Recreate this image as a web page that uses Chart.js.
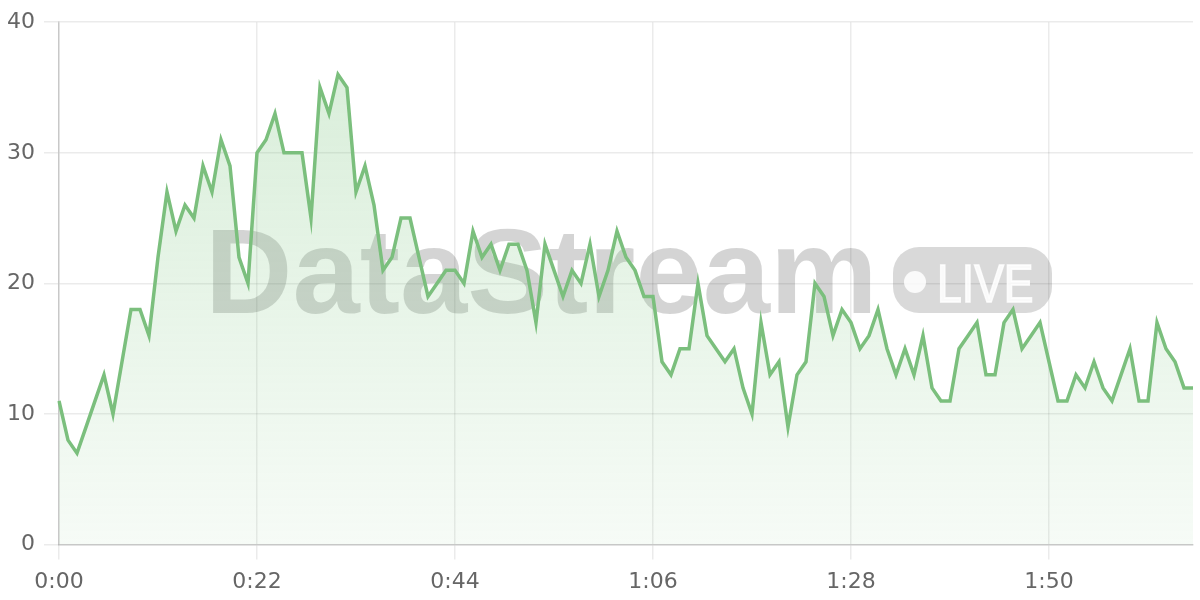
<!DOCTYPE html>
<html>
<head>
<meta charset="utf-8">
<script src="https://cdn.jsdelivr.net/npm/chart.js@4/dist/chart.umd.min.js"></script>
<style>
  html, body { margin: 0; padding: 0; background: #fff; }
  #wrap { position: relative; width: 1200px; height: 600px; }
</style>
</head>
<body>
<div id="wrap"><canvas id="chartLive"></canvas></div>
<script>
// valores (um ponto por segundo)
const valores = [
  11, 8, 7, 9, 11, 13, 10, 14, 18, 18,
  16, 22, 27, 24, 26, 25, 29, 27, 31, 29,
  22, 20, 30, 31, 33, 30, 30, 30, 25, 35,
  33, 36, 35, 27, 29, 26, 21, 22, 25, 25,
  22, 19, 20, 21, 21, 20, 24, 22, 23, 21,
  23, 23, 21, 17, 23, 21, 19, 21, 20, 23,
  19, 21, 24, 22, 21, 19, 19, 14, 13, 15,
  15, 20, 16, 15, 14, 15, 12, 10, 17, 13,
  14, 9, 13, 14, 20, 19, 16, 18, 17, 15,
  16, 18, 15, 13, 15, 13, 16, 12, 11, 11,
  15, 16, 17, 13, 13, 17, 18, 15, 16, 17,
  14, 11, 11, 13, 12, 14, 12, 11, 13, 15,
  11, 11, 17, 15, 14, 12, 12
];

// rótulos m:ss
const segundos = valores.map((_, i) => i);
const rotulos = segundos.map(s => Math.floor(s / 60) + ':' + String(s % 60).padStart(2, '0'));
const passoRotulo = 22;
const yTicks = [0, 10, 20, 30, 40];

const corLinha = '#7bbf7d';
const fonte = "'DejaVu Sans', sans-serif";

// marca d'água "DataStream • LIVE"
const marcaDagua = {
    id: 'marcaDagua',
    beforeDatasetsDraw(chart) {
        const ctx = chart.ctx;
        ctx.save();
        ctx.fillStyle = 'rgba(0,0,0,0.17)';
        ctx.font = "bold 121px 'Liberation Sans', Arial, sans-serif";
        ctx.textBaseline = 'alphabetic';
        ctx.textAlign = 'left';
        ctx.fillText('DataStream', 205, 313);

        // pílula LIVE
        const x = 893, y = 247, w = 159, h = 66, r = 26;
        ctx.beginPath();
        ctx.roundRect(x, y, w, h, r);
        ctx.fillStyle = 'rgba(0,0,0,0.15)';
        ctx.fill();
        ctx.fillStyle = 'rgba(255,255,255,0.85)';
        ctx.strokeStyle = 'rgba(255,255,255,0.85)';
        ctx.beginPath();
        ctx.arc(915, 282, 11, 0, Math.PI * 2);
        ctx.fill();
        ctx.translate(937, 302);
        ctx.scale(0.84, 1);
        ctx.font = "53px 'Liberation Sans', Arial, sans-serif";
        ctx.lineWidth = 1.6;
        ctx.fillText('LIVE', 0, 0);
        ctx.strokeText('LIVE', 0, 0);
        ctx.restore();
    }
};

function renderChart() {
    const ctx = document.getElementById('chartLive').getContext('2d');

    const gradiente = ctx.createLinearGradient(0, 19, 0, 543);
    gradiente.addColorStop(0, 'rgba(129, 199, 132, 0.32)');
    gradiente.addColorStop(1, 'rgba(129, 199, 132, 0.07)');

    new Chart(ctx, {
        type: 'line',
        data: {
            labels: rotulos,
            datasets: [{
                data: valores,
                fill: true,
                backgroundColor: gradiente,
                borderColor: corLinha,
                borderWidth: 3.5,
                tension: 0,
                pointRadius: 0,
                pointHoverRadius: 0
            }]
        },
        options: {
            responsive: true,
            maintainAspectRatio: false,
            animation: false,
            layout: { padding: { top: 8, right: 7, left: -2, bottom: -4 } },
            plugins: {
                legend: { display: false },
                tooltip: { enabled: false }
            },
            scales: {
                x: {
                    offset: false,
                    grid: { color: 'rgba(0,0,0,0.08)', tickLength: 15, lineWidth: 1.5 },
                    border: { color: 'rgba(0,0,0,0.15)', width: 1.5 },
                    ticks: {
                        autoSkip: false,
                        maxRotation: 0,
                        padding: 9,
                        color: '#666',
                        font: { family: fonte, size: 22 },
                        callback: (v, i) => (i % passoRotulo === 0 ? rotulos[i] : null)
                    }
                },
                y: {
                    min: yTicks[0],
                    max: yTicks[yTicks.length - 1],
                    afterBuildTicks: axis => { axis.ticks = yTicks.map(v => ({ value: v })); },
                    grid: { color: 'rgba(0,0,0,0.08)', tickLength: 15, lineWidth: 1.5 },
                    border: { color: 'rgba(0,0,0,0.15)', width: 1.5 },
                    ticks: {
                        padding: 9,
                        color: '#666',
                        font: { family: fonte, size: 22 }
                    }
                }
            }
        },
        plugins: [marcaDagua]
    });
}

document.addEventListener('DOMContentLoaded', renderChart);
</script>
</body>
</html>
